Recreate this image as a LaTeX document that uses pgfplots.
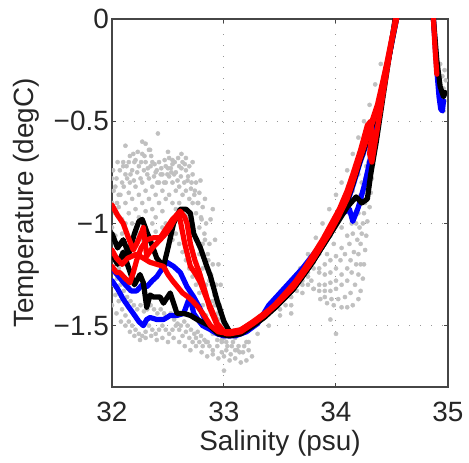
\documentclass[border=0pt]{standalone}
\usepackage{fontspec}
\setmainfont{Liberation Sans}
\usepackage{pgfplots}
\pgfplotsset{compat=1.18}
\definecolor{axgray}{RGB}{70,70,70}
\definecolor{ptgray}{RGB}{192,192,192}
\definecolor{gridgray}{RGB}{150,150,150}
\definecolor{mred}{RGB}{255,0,0}
\definecolor{mblue}{RGB}{0,0,255}
\begin{document}
\begin{tikzpicture}
\begin{axis}[
 at={(0,0)}, anchor=south west,
 scale only axis, width=336bp, height=368bp,
 xmin=32, xmax=35, ymin=-1.8, ymax=0,
 clip marker paths=true,
 xtick={32,33,34,35}, xticklabels={32,33,34,35},
 ytick={-1.5,-1,-0.5,0}, yticklabels={−1.5,−1,−0.5,0},
 tick align=inside, tick pos=both, major tick length=4bp,
 grid=major, grid style={gridgray, line width=1bp, dash pattern=on 1.2bp off 9.8bp},
 axis line style={axgray, line width=1.3bp},
 every tick/.style={axgray, line width=1bp},
 tick label style={font=\fontsize{28}{30}\selectfont, text=black!85, inner sep=0pt},
 xticklabel style={anchor=north, yshift=-15bp},
 yticklabel style={anchor=east, xshift=-3bp},
 label style={font=\fontsize{28}{30}\selectfont, text=black!85, inner sep=0pt},
 xlabel={Salinity (psu)},
 ylabel={Temperature (degC)},
 xlabel style={at={(axis description cs:0.5,-0.117)}, anchor=north},
 ylabel style={at={(axis description cs:-0.295,0.5)}, anchor=north},
]
% ---------- gray scatter ----------
\pgfplotsset{gpt/.style={only marks, mark=*, mark size=2.1bp, color=ptgray}}
\addplot[gpt] coordinates {(32.00,-0.78)(32.03,-0.82)(32.06,-0.86)(32.09,-0.8)(32.12,-0.76)(32.15,-0.7)(32.18,-0.74)(32.21,-0.69)(32.24,-0.72)(32.27,-0.66)(32.30,-0.7)(32.33,-0.64)(32.36,-0.7)(32.39,-0.75)(32.42,-0.7)(32.45,-0.76)(32.48,-0.72)(32.51,-0.68)(32.54,-0.71)(32.57,-0.75)(32.60,-0.72)(32.63,-0.7)(32.66,-0.74)(32.69,-0.72)(32.72,-0.76)(32.75,-0.8)(32.78,-0.85)(32.81,-0.92)(32.84,-1.0)(32.87,-1.1)(32.9,-1.2)(32.93,-1.3)(32.96,-1.4)(32.99,-1.48)(33.03,-1.55)(33.08,-1.58)(33.13,-1.6)};
\addplot[gpt] coordinates {(32.01,-0.74)(32.04,-0.78)(32.07,-0.74)(32.1,-0.7)(32.13,-0.72)(32.16,-0.67)(32.2,-0.7)(32.23,-0.65)(32.26,-0.7)(32.29,-0.67)(32.32,-0.73)(32.35,-0.67)(32.38,-0.71)(32.44,-0.73)(32.47,-0.69)(32.5,-0.73)(32.53,-0.75)(32.56,-0.7)(32.59,-0.68)(32.62,-0.73)(32.65,-0.71)(32.68,-0.77)(32.71,-0.8)(32.74,-0.84)(32.77,-0.9)(32.8,-0.98)(32.83,-1.08)(32.86,-1.18)(32.89,-1.3)(32.92,-1.4)(32.95,-1.47)};
\addplot[gpt] coordinates {(32.00,-0.9)(32.03,-0.95)(32.06,-0.92)(32.09,-0.98)(32.12,-0.9)(32.15,-0.85)(32.18,-0.88)(32.21,-0.82)(32.24,-0.86)(32.27,-0.8)(32.30,-0.84)(32.33,-0.78)(32.36,-0.82)(32.39,-0.86)(32.42,-0.8)(32.45,-0.84)(32.48,-0.8)(32.51,-0.77)(32.54,-0.8)(32.57,-0.84)(32.60,-0.82)(32.63,-0.86)(32.66,-0.84)(32.69,-0.88)(32.72,-0.9)(32.75,-0.95)(32.78,-1.02)(32.81,-1.1)(32.84,-1.18)(32.87,-1.28)(32.9,-1.38)(32.93,-1.46)(32.97,-1.53)(33.02,-1.58)(33.07,-1.6)(33.12,-1.62)(33.17,-1.63)(33.22,-1.62)};
\addplot[gpt] coordinates {(32.015,-0.84)(32.045,-0.9)(32.075,-0.86)(32.105,-0.82)(32.135,-0.78)(32.165,-0.76)(32.195,-0.79)(32.225,-0.75)(32.255,-0.78)(32.285,-0.74)(32.315,-0.76)(32.345,-0.72)(32.375,-0.77)(32.405,-0.8)(32.435,-0.76)(32.465,-0.8)(32.495,-0.76)(32.525,-0.73)(32.555,-0.76)(32.585,-0.79)(32.615,-0.77)(32.645,-0.8)(32.675,-0.79)(32.705,-0.83)(32.735,-0.86)(32.765,-0.9)(32.795,-0.97)(32.825,-1.05)(32.855,-1.15)(32.885,-1.25)(32.915,-1.35)(32.945,-1.44)(32.975,-1.5)};
\addplot[gpt] coordinates {(32.00,-1.02)(32.03,-1.06)(32.06,-1.1)(32.09,-1.05)(32.12,-1.0)(32.15,-0.95)(32.18,-1.0)(32.21,-0.93)(32.24,-0.97)(32.27,-0.9)(32.30,-0.94)(32.33,-0.88)(32.36,-0.93)(32.39,-0.97)(32.42,-0.9)(32.45,-0.94)(32.48,-0.88)(32.51,-0.86)(32.54,-0.9)(32.57,-0.93)(32.60,-0.9)(32.63,-0.93)(32.66,-0.96)(32.69,-0.98)(32.72,-1.02)(32.75,-1.08)(32.78,-1.15)(32.81,-1.22)(32.84,-1.3)(32.87,-1.38)(32.9,-1.45)(32.94,-1.52)(32.98,-1.57)(33.03,-1.6)};
\addplot[gpt] coordinates {(32.00,-1.15)(32.03,-1.18)(32.06,-1.22)(32.09,-1.2)(32.12,-1.16)(32.15,-1.12)(32.18,-1.08)(32.21,-1.1)(32.24,-1.05)(32.27,-1.08)(32.30,-1.02)(32.33,-1.06)(32.36,-1.0)(32.39,-1.04)(32.42,-1.08)(32.45,-1.02)(32.48,-1.0)(32.51,-1.04)(32.54,-1.08)(32.57,-1.05)(32.60,-1.1)(32.63,-1.14)(32.66,-1.18)(32.69,-1.22)(32.72,-1.26)(32.75,-1.3)(32.78,-1.34)(32.81,-1.4)(32.84,-1.45)(32.87,-1.5)(32.9,-1.54)(32.94,-1.57)(32.98,-1.58)};
\addplot[gpt] coordinates {(32.015,-1.22)(32.045,-1.27)(32.075,-1.3)(32.105,-1.33)(32.135,-1.36)(32.165,-1.38)(32.195,-1.4)(32.225,-1.42)(32.255,-1.4)(32.285,-1.43)(32.315,-1.42)(32.345,-1.4)(32.375,-1.42)(32.405,-1.44)(32.435,-1.42)(32.465,-1.44)(32.495,-1.46)(32.525,-1.44)(32.555,-1.47)(32.585,-1.49)(32.615,-1.5)(32.645,-1.48)(32.675,-1.5)(32.705,-1.52)(32.735,-1.54)(32.765,-1.53)(32.795,-1.55)(32.825,-1.57)(32.855,-1.58)};
\addplot[gpt] coordinates {(32.00,-1.3)(32.03,-1.35)(32.06,-1.38)(32.09,-1.42)(32.12,-1.45)(32.15,-1.48)(32.18,-1.5)(32.21,-1.52)(32.24,-1.54)(32.27,-1.55)(32.30,-1.53)(32.33,-1.5)(32.36,-1.52)(32.39,-1.54)(32.42,-1.52)(32.45,-1.5)(32.48,-1.52)(32.51,-1.54)(32.54,-1.52)(32.57,-1.5)(32.60,-1.52)(32.63,-1.55)(32.66,-1.53)(32.69,-1.56)(32.72,-1.58)(32.75,-1.56)(32.78,-1.58)(32.81,-1.6)(32.84,-1.58)(32.87,-1.6)(32.9,-1.62)(32.94,-1.6)(32.98,-1.63)(33.02,-1.62)(33.06,-1.64)(33.1,-1.62)(33.14,-1.63)(33.18,-1.6)(33.22,-1.58)};
\addplot[gpt] coordinates {(32.00,-1.4)(32.04,-1.44)(32.08,-1.48)(32.12,-1.5)(32.16,-1.53)(32.2,-1.55)(32.25,-1.57)(32.3,-1.56)(32.35,-1.55)(32.4,-1.57)(32.45,-1.56)(32.5,-1.58)(32.55,-1.56)(32.6,-1.58)(32.65,-1.6)(32.7,-1.62)(32.75,-1.6)(32.8,-1.63)(32.85,-1.65)(32.9,-1.64)(32.95,-1.66)(33.0,-1.65)(33.05,-1.67)(33.1,-1.66)};
\addplot[gpt] coordinates {(32.19,-0.66)(32.34,-0.64)(32.41,-0.56)(32.54,-0.69)(32.72,-0.7)(32.4,-0.74)(32.16,-0.8)(32.79,-0.79)(32.1,-0.72)(32.27,-0.6)(32.5,-0.65)(32.62,-0.66)(32.83,-0.88)(32.88,-0.98)(32.92,-1.08)(32.95,-1.2)(32.97,-1.3)(33.2,-1.67)(33.25,-1.65)(33.15,-1.68)(32.05,-0.7)(32.66,-0.68)(33.0,-1.72)(32.12,-0.62)(32.3,-0.61)(32.9,-0.93)};
\addplot[gpt] coordinates {(33.0,-1.56)(33.1,-1.56)(33.2,-1.53)(33.3,-1.49)(33.4,-1.44)(33.5,-1.38)(33.6,-1.3)(33.68,-1.22)(33.75,-1.15)(33.82,-1.07)(33.88,-1.0)(33.94,-0.93)(34.0,-0.86)(34.05,-0.8)(34.1,-0.74)(34.15,-0.66)(34.2,-0.58)(34.25,-0.5)(34.3,-0.42)(34.35,-0.32)(34.4,-0.22)};
\addplot[gpt] coordinates {(33.2,-1.58)(33.3,-1.54)(33.4,-1.5)(33.5,-1.45)(33.6,-1.4)(33.7,-1.34)(33.78,-1.28)(33.85,-1.22)(33.92,-1.15)(33.98,-1.1)(34.05,-1.02)(34.12,-0.95)(34.18,-0.88)(34.23,-0.8)(34.27,-0.72)(34.3,-0.64)(34.33,-0.56)};
\addplot[gpt] coordinates {(33.5,-1.42)(33.55,-1.4)(33.6,-1.36)(33.65,-1.33)(33.7,-1.3)(33.75,-1.24)(33.8,-1.19)(33.85,-1.15)(33.9,-1.1)(33.95,-1.06)(34.0,-1.0)(34.05,-0.95)(34.1,-0.9)(34.15,-0.84)(34.2,-0.76)(34.25,-0.66)(34.28,-0.6)};
\addplot[gpt] coordinates {(33.9,-1.2)(33.95,-1.18)(34.0,-1.16)(34.05,-1.12)(34.1,-1.06)(34.14,-1.0)(34.18,-0.94)(34.22,-0.86)(34.26,-0.78)(34.29,-0.7)};
\addplot[gpt] coordinates {(33.85,-1.3)(33.9,-1.3)(33.95,-1.29)(34.0,-1.28)(34.05,-1.25)(34.1,-1.22)(34.13,-1.18)(34.16,-1.14)(34.19,-1.08)(34.21,-1.02)};
\addplot[gpt] coordinates {(33.9,-1.36)(33.96,-1.37)(34.02,-1.37)(34.08,-1.36)(34.13,-1.34)(34.17,-1.3)(34.2,-1.25)(34.22,-1.2)};
\addplot[gpt] coordinates {(33.75,-1.26)(33.8,-1.32)(33.86,-1.37)(33.92,-1.39)(33.98,-1.4)(34.05,-1.41)(34.1,-1.41)(34.15,-1.4)(34.2,-1.37)(34.22,-1.33)(34.24,-1.27)(34.25,-1.2)(34.26,-1.13)(34.27,-1.06)(34.28,-0.99)(34.3,-0.92)(34.31,-0.85)(34.32,-0.78)(34.33,-0.71)};
\addplot[gpt] coordinates {(33.7,-1.28)(33.75,-1.3)(33.8,-1.32)(33.85,-1.33)(33.9,-1.33)(33.95,-1.33)(34.0,-1.32)(34.05,-1.3)(34.1,-1.28)(34.14,-1.24)(34.18,-1.2)(34.2,-1.15)(34.22,-1.1)(34.23,-1.05)(34.24,-1.0)(34.25,-0.95)(34.26,-0.9)};
\addplot[gpt] coordinates {(33.8,-1.22)(33.85,-1.24)(33.9,-1.25)(33.95,-1.24)(34.0,-1.22)(34.04,-1.18)(34.08,-1.15)(34.12,-1.1)(34.15,-1.05)(34.18,-1.0)(34.2,-0.95)(34.22,-0.9)(34.24,-0.85)(34.0,-1.54)(33.95,-1.47)(33.6,-1.44)};
\addplot[gpt] coordinates {(34.93,-0.22)(34.95,-0.28)(34.96,-0.34)(34.97,-0.4)(34.98,-0.3)(34.97,-0.25)(34.96,-0.45)(34.98,-0.36)};
% ---------- blue ----------
\pgfplotsset{cl/.style={no markers, line width=5.2bp, line join=round, line cap=round}}
\addplot[cl, mblue] coordinates {(32.0,-1.28)(32.05,-1.32)(32.1,-1.37)(32.15,-1.41)(32.19,-1.44)(32.24,-1.48)(32.28,-1.5)(32.31,-1.47)(32.34,-1.46)(32.4,-1.47)(32.46,-1.47)(32.52,-1.45)(32.58,-1.45)(32.64,-1.44)(32.68,-1.38)(32.7,-1.37)(32.73,-1.44)(32.78,-1.48)(32.81,-1.5)(32.88,-1.52)(32.94,-1.54)(33.0,-1.55)(33.1,-1.55)(33.2,-1.53)(33.3,-1.49)(33.4,-1.4)(33.5,-1.34)(33.6,-1.28)(33.7,-1.22)(33.8,-1.15)(33.9,-1.08)(34.0,-1.0)(34.06,-0.95)(34.12,-0.93)(34.15,-0.99)(34.2,-0.92)(34.26,-0.8)(34.3,-0.7)(34.35,-0.55)(34.4,-0.4)(34.45,-0.25)(34.5,-0.1)(34.56,0.1)(34.6,0.2)(34.84,0.2)(34.87,0.0)(34.9,-0.25)(34.92,-0.38)(34.935,-0.44)(34.95,-0.45)(34.96,-0.4)};
\addplot[cl, mblue] coordinates {(32.0,-1.22)(32.06,-1.26)(32.12,-1.3)(32.17,-1.33)(32.22,-1.33)(32.27,-1.3)(32.31,-1.31)(32.36,-1.28)(32.4,-1.26)(32.45,-1.22)(32.49,-1.19)(32.55,-1.21)(32.61,-1.24)(32.67,-1.31)(32.73,-1.36)(32.78,-1.41)(32.83,-1.47)(32.87,-1.5)(32.95,-1.54)(33.05,-1.55)(33.15,-1.53)(33.26,-1.49)(33.36,-1.44)(33.46,-1.4)(33.55,-1.35)(33.62,-1.31)(33.7,-1.25)(33.79,-1.18)(33.87,-1.11)(33.94,-1.05)(34.02,-0.98)(34.1,-0.9)(34.16,-0.8)(34.21,-0.71)(34.29,-0.58)(34.37,-0.45)(34.42,-0.32)(34.46,-0.22)(34.5,-0.11)(34.54,0.0)(34.6,0.2)};
% ---------- black ----------
\addplot[cl, black] coordinates {(32.0,-1.05)(32.05,-1.12)(32.1,-1.08)(32.15,-1.15)(32.2,-1.05)(32.24,-0.99)(32.27,-0.98)(32.31,-1.04)(32.34,-1.08)(32.4,-1.17)(32.46,-1.21)(32.5,-1.12)(32.55,-1.0)(32.61,-0.93)(32.66,-0.93)(32.7,-0.95)(32.73,-1.05)(32.79,-1.12)(32.84,-1.2)(32.88,-1.26)(32.94,-1.38)(33.0,-1.48)(33.05,-1.53)(33.15,-1.53)(33.26,-1.49)(33.36,-1.45)(33.46,-1.41)(33.55,-1.36)(33.62,-1.32)(33.7,-1.26)(33.79,-1.19)(33.87,-1.12)(33.94,-1.06)(34.02,-0.99)(34.1,-0.92)(34.18,-0.87)(34.23,-0.9)(34.28,-0.88)(34.31,-0.76)(34.36,-0.6)(34.42,-0.38)(34.47,-0.2)(34.52,-0.03)(34.58,0.2)};
\addplot[cl, black] coordinates {(32.0,-1.15)(32.05,-1.2)(32.1,-1.14)(32.15,-1.22)(32.2,-1.3)(32.25,-1.25)(32.28,-1.29)(32.31,-1.41)(32.34,-1.35)(32.37,-1.36)(32.43,-1.36)(32.46,-1.39)(32.52,-1.34)(32.58,-1.44)(32.64,-1.44)(32.7,-1.45)(32.76,-1.47)(32.87,-1.5)(32.95,-1.54)(33.05,-1.55)(33.15,-1.54)(33.26,-1.5)(33.36,-1.46)(33.46,-1.41)(33.55,-1.36)(33.62,-1.32)(33.7,-1.26)(33.79,-1.19)(33.87,-1.12)(33.94,-1.06)(34.02,-0.98)(34.1,-0.89)(34.16,-0.79)(34.21,-0.7)(34.29,-0.57)(34.37,-0.45)(34.42,-0.32)(34.46,-0.22)(34.5,-0.11)(34.54,0.0)(34.6,0.2)(34.84,0.2)(34.87,0.0)(34.9,-0.2)(34.93,-0.33)(34.96,-0.38)(34.975,-0.36)};
% ---------- red ----------
\addplot[cl, mred] coordinates {(32.0,-0.91)(32.05,-0.96)(32.1,-1.0)(32.14,-1.06)(32.19,-1.13)(32.22,-1.1)(32.26,-1.05)(32.28,-1.02)(32.31,-1.16)(32.36,-1.12)(32.43,-1.08)(32.48,-1.05)(32.52,-1.02)(32.57,-0.97)(32.6,-0.96)(32.65,-1.1)(32.7,-1.21)(32.75,-1.25)(32.79,-1.29)(32.84,-1.36)(32.88,-1.41)(32.94,-1.49)(33.0,-1.53)(33.05,-1.53)(33.15,-1.52)(33.26,-1.48)(33.36,-1.44)(33.46,-1.4)(33.55,-1.35)(33.62,-1.31)(33.7,-1.25)(33.79,-1.18)(33.87,-1.11)(33.94,-1.05)(34.02,-0.97)(34.1,-0.88)(34.16,-0.78)(34.21,-0.69)(34.29,-0.56)(34.37,-0.44)(34.42,-0.31)(34.46,-0.21)(34.5,-0.1)(34.54,0.0)(34.6,0.2)};
\addplot[cl, mred] coordinates {(32.0,-1.21)(32.04,-1.24)(32.07,-1.24)(32.12,-1.27)(32.16,-1.29)(32.19,-1.24)(32.22,-1.18)(32.26,-1.12)(32.31,-1.08)(32.37,-1.07)(32.43,-1.07)(32.49,-1.02)(32.54,-0.98)(32.61,-0.94)(32.65,-0.97)(32.67,-1.0)(32.7,-1.1)(32.74,-1.18)(32.78,-1.24)(32.83,-1.33)(32.87,-1.41)(32.94,-1.5)(33.02,-1.54)(33.12,-1.53)(33.24,-1.49)(33.35,-1.45)(33.45,-1.4)(33.55,-1.34)(33.63,-1.29)(33.72,-1.22)(33.8,-1.15)(33.88,-1.08)(33.96,-1.0)(34.03,-0.93)(34.1,-0.84)(34.15,-0.76)(34.22,-0.64)(34.28,-0.52)(34.31,-0.5)(34.32,-0.56)(34.3,-0.66)(34.32,-0.7)(34.38,-0.5)(34.44,-0.3)(34.5,-0.1)(34.56,0.1)(34.6,0.2)(34.84,0.2)(34.87,0.0)(34.885,-0.15)(34.9,-0.27)};
\addplot[cl, mred] coordinates {(32.0,-1.13)(32.04,-1.17)(32.09,-1.2)(32.14,-1.17)(32.22,-1.15)(32.28,-1.17)(32.34,-1.19)(32.4,-1.2)(32.46,-1.21)(32.5,-1.25)(32.54,-1.28)(32.6,-1.32)(32.63,-1.34)(32.68,-1.36)(32.72,-1.38)(32.77,-1.41)(32.81,-1.44)(32.88,-1.5)(32.95,-1.53)(33.05,-1.54)(33.15,-1.53)(33.26,-1.49)(33.36,-1.45)(33.46,-1.4)(33.55,-1.35)(33.62,-1.31)(33.7,-1.25)(33.79,-1.18)(33.87,-1.11)(33.94,-1.04)(34.02,-0.96)(34.1,-0.87)(34.16,-0.77)(34.21,-0.68)(34.29,-0.55)(34.37,-0.42)(34.42,-0.3)(34.46,-0.2)(34.5,-0.09)(34.54,0.0)(34.6,0.2)};
\end{axis}
\pgfresetboundingbox
\path (-112bp,-76bp) rectangle (357bp,387bp);
\end{tikzpicture}
\end{document}
